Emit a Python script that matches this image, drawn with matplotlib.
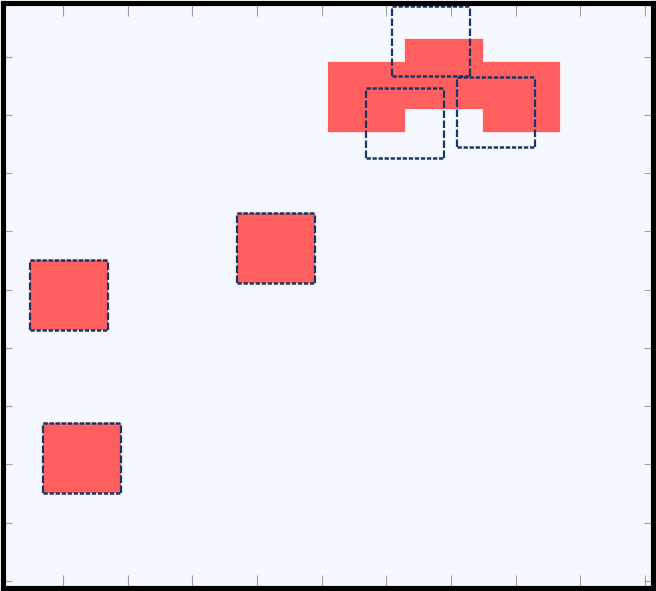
import matplotlib
matplotlib.use("Agg")
import matplotlib.pyplot as plt
from matplotlib.patches import Rectangle

plt.rcParams['lines.scale_dashes'] = False

# Filled squares (centers, data units)
red_x = [1.296, 1.095, 4.291, 5.690, 6.888, 8.090]
red_y = [3.106, 5.903, 6.711, 9.308, 9.700, 9.308]
# Dashed outline squares (centers, data units)
box_x = [1.296, 1.095, 4.291, 6.688, 6.291, 7.693]
box_y = [3.106, 5.903, 6.711, 10.262, 8.856, 9.048]
side = 1.2

x_ticks = [1, 2, 3, 4, 5, 6, 7, 8, 9, 10]
y_ticks = [1, 2, 3, 4, 5, 6, 7, 8, 9, 10]

RED = '#ff5f5f'
NAVY = '#1a3668'
BG = '#f5f9ff'

fig = plt.figure(figsize=(6.56, 5.91), dpi=100)
fig.patch.set_facecolor('white')
ax = fig.add_axes([2.5 / 656, 2.7 / 591, 650 / 656, 585.8 / 591])
ax.set_facecolor(BG)

# outline pass (beneath), then fill pass (above) so the union has outer edges only
for cx, cy in zip(red_x, red_y):
    ax.add_patch(Rectangle((cx - side / 2, cy - side / 2), side, side,
                           facecolor=RED, edgecolor='#ffe4e4', linewidth=1.4,
                           zorder=1, joinstyle='round'))
for cx, cy in zip(red_x, red_y):
    ax.add_patch(Rectangle((cx - side / 2, cy - side / 2), side, side,
                           facecolor=RED, edgecolor='none', zorder=2))

h_dash = (0, (3.1, 1.25))
v_dash = (0, (5.4, 1.8))
for cx, cy in zip(box_x, box_y):
    x0, x1 = cx - side / 2, cx + side / 2
    y0, y1 = cy - side / 2, cy + side / 2
    for yy in (y0, y1):
        ax.plot([x0, x1], [yy, yy], color=NAVY, linewidth=1.8,
                linestyle=h_dash, zorder=3, solid_capstyle='round')
    for xx in (x0, x1):
        ax.plot([xx, xx], [y0, y1], color=NAVY, linewidth=1.6,
                linestyle=v_dash, zorder=3, solid_capstyle='round')

ax.set_xlim(0.064, 10.115)
ax.set_ylim(0.875, 10.93)
ax.set_xticks(x_ticks)
ax.set_yticks(y_ticks)
ax.set_xticklabels([])
ax.set_yticklabels([])
ax.tick_params(axis='x', which='both', direction='in', length=9.5, width=0.8,
               color='#a0a0a0', top=True, bottom=True)
ax.tick_params(axis='y', which='both', direction='in', length=6.5, width=0.8,
               color='#a0a0a0', left=True, right=True)
for sp in ax.spines.values():
    sp.set_linewidth(3.7)
    sp.set_color('black')
    sp.set_zorder(5)

fig.savefig('out.png', dpi=100, facecolor='white')
